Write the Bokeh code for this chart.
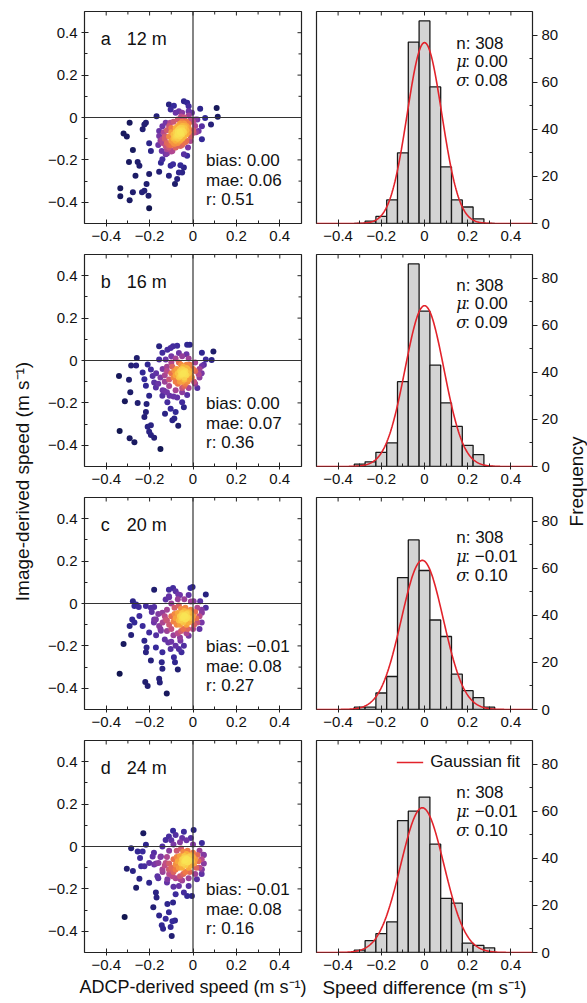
import numpy as np
from bokeh.plotting import figure
from bokeh.layouts import row, column
from bokeh.models import (Range1d, FixedTicker, CustomJSTickFormatter,
                          Span, Label, ColumnDataSource)
from bokeh.core.properties import value
from bokeh.embed import file_html
from bokeh.resources import INLINE

FONT = "Liberation Sans"

# ---------------- data ----------------
letters = ["a", "b", "c", "d"]
depths = ["12 m", "16 m", "20 m", "24 m"]
bias_txt = ["0.00", "0.00", "\u22120.01", "\u22120.01"]
mae_txt = ["0.06", "0.07", "0.08", "0.08"]
r_txt = ["0.51", "0.36", "0.27", "0.16"]
n_obs = [308, 308, 308, 308]
mu_txt = ["0.00", "0.00", "\u22120.01", "\u22120.01"]
sigma_txt = ["0.08", "0.09", "0.10", "0.10"]
mu_fit = [0.0, 0.0, -0.01, -0.01]
sigma_fit = [0.080, 0.090, 0.097, 0.100]

bin_centers = [-0.30, -0.25, -0.20, -0.15, -0.10, -0.05, 0.0, 0.05, 0.10, 0.15, 0.20, 0.25, 0.30]
bin_width = 0.05
hist_a = [0, 1, 3, 10, 30, 77, 86, 58, 24, 10, 7, 2, 0]
hist_b = [1, 2, 6, 10, 36, 86, 66, 43, 27, 17, 9, 5, 0]
hist_c = [1, 1, 7, 14, 56, 72, 59, 38, 31, 15, 8, 5, 1]
hist_d = [1, 5, 8, 13, 56, 60, 66, 46, 23, 21, 4, 3, 2]

# scatter (ADCP-derived, image-derived) pairs
sc_a = [(-0.335,-0.334),(-0.335,-0.372),(-0.292,-0.025),(-0.32,-0.075),(-0.305,-0.09),(-0.295,-0.21),
        (-0.277,-0.153),(-0.292,-0.39),(-0.277,-0.353),(-0.265,-0.275),(-0.255,-0.21),(-0.247,-0.228),
        (-0.235,-0.353),(-0.224,-0.345),(-0.214,-0.314),(-0.205,-0.369),(-0.202,-0.428),(-0.202,-0.267),
        (-0.202,-0.122),(-0.194,-0.158),(-0.232,-0.056),(-0.224,-0.033),(-0.217,-0.025),(-0.168,0.006),
        (-0.156,-0.256),(-0.148,-0.213),(-0.141,-0.197),(-0.144,-0.158),(-0.126,-0.173),(-0.111,-0.275),
        (-0.103,-0.228),(-0.092,-0.22),(-0.083,-0.314),(-0.073,-0.29),(-0.065,-0.259),(-0.05,-0.259),
        (-0.058,-0.225),(-0.042,-0.236),(-0.027,-0.181),(-0.023,-0.142),(-0.042,-0.173),(-0.111,0.061),
        (-0.103,0.038),(-0.088,0.056),(-0.042,0.077),(-0.027,0.069),(-0.02,0.053),(0.033,0.041),
        (0.056,-0.002),(0.083,-0.033),(0.109,0.045),(0.114,0.003),(0.041,-0.103),(0.026,-0.064),
        (0.041,-0.041),(-0.156,-0.064),(-0.156,-0.087),(-0.141,-0.103),(-0.126,-0.134),(-0.111,-0.142),
        (-0.095,-0.158),(-0.08,-0.142),(-0.058,-0.134),(-0.042,-0.119),(-0.012,-0.111),(0.003,-0.072),
        (0.011,-0.009),(-0.005,0.022),(-0.126,-0.025),(-0.141,-0.041),(-0.08,0.022),(-0.065,0.03),
        (-0.05,0.022),
        (-0.13,-0.09),(-0.12,-0.06),(-0.11,-0.04),(-0.09,-0.02),(-0.07,-0.01),(-0.04,0.0),(-0.02,0.01),
        (0.0,-0.02),(0.01,-0.04),(0.0,-0.06),(-0.01,-0.09),(-0.03,-0.11),(-0.05,-0.13),(-0.08,-0.14),
        (-0.10,-0.13),(-0.12,-0.15),(-0.14,-0.12),(-0.13,-0.10),(-0.15,-0.11),(-0.10,-0.16),(-0.02,0.03),
        (0.02,-0.01),(-0.135,-0.07),(-0.085,-0.125),(-0.035,-0.115),(0.015,-0.07),(-0.105,-0.025),
        (-0.055,0.005),(-0.16,-0.13),(-0.12,-0.17),
        (-0.06,-0.07),(-0.05,-0.06),(-0.07,-0.08),(-0.04,-0.05),(-0.08,-0.09),(-0.05,-0.08),(-0.07,-0.06),
        (-0.03,-0.04),(-0.09,-0.10),(-0.06,-0.05),(-0.06,-0.09),(-0.04,-0.07),(-0.08,-0.07),(-0.02,-0.03),
        (-0.10,-0.11),(-0.05,-0.04),(-0.07,-0.10),(-0.03,-0.06),(-0.09,-0.08),(-0.06,-0.03),(-0.04,-0.09),
        (-0.08,-0.05),(-0.11,-0.09),(-0.02,-0.05),(-0.05,-0.10),(-0.07,-0.04),(-0.10,-0.07),(-0.03,-0.02),
        (-0.12,-0.12),(-0.01,-0.01),(-0.06,-0.11),(-0.09,-0.12),(-0.04,-0.03),(-0.08,-0.11),(-0.05,-0.02),
        (-0.11,-0.13),(-0.02,-0.07),(-0.07,-0.12),(-0.10,-0.05),(-0.03,-0.08),(-0.06,-0.065),(-0.055,-0.075),
        (-0.065,-0.055),(-0.045,-0.065),(-0.075,-0.085),(-0.035,-0.045),(-0.085,-0.095),(-0.05,-0.05),
        (-0.07,-0.07),(-0.04,-0.04)]

sc_b = [(-0.338,-0.333),(-0.341,-0.073),(-0.295,-0.091),(-0.289,-0.15),(-0.314,-0.192),(-0.292,-0.367),
        (-0.27,-0.386),(-0.259,0.012),(-0.285,-0.023),(-0.262,-0.023),(-0.255,-0.2),(-0.224,-0.267),
        (-0.217,-0.243),(-0.214,-0.205),(-0.209,-0.313),(-0.202,-0.336),(-0.194,-0.352),(-0.179,-0.364),
        (-0.194,-0.305),(-0.202,-0.166),(-0.232,-0.057),(-0.224,-0.088),(-0.217,-0.119),(-0.209,-0.019),
        (-0.194,-0.042),(-0.186,-0.073),(-0.179,-0.104),(-0.171,-0.127),(-0.156,0.067),(-0.15,-0.417),
        (-0.129,-0.251),(-0.118,-0.197),(-0.108,-0.166),(-0.103,-0.228),(-0.095,-0.282),(-0.086,-0.274),
        (-0.068,-0.308),(-0.08,-0.243),(-0.042,-0.22),(-0.05,-0.197),(-0.027,-0.163),(-0.073,-0.174),
        (-0.133,-0.143),(-0.141,-0.166),(-0.118,0.051),(-0.103,0.059),(-0.092,0.067),(-0.073,0.07),
        (-0.027,0.074),(-0.015,0.074),(0.041,0.036),(0.059,0.005),(0.094,0.043),(0.086,0.002),
        (0.041,-0.026),(0.026,-0.065),(-0.141,0.036),(-0.156,0.005),(-0.126,0.005),
        (-0.13,-0.07),(-0.12,-0.03),(-0.1,-0.01),(-0.08,0.01),(-0.05,0.02),(-0.02,0.01),(0.01,-0.01),
        (0.03,-0.04),(0.03,-0.08),(0.01,-0.11),(-0.02,-0.13),(-0.05,-0.15),(-0.08,-0.14),(-0.11,-0.12),
        (-0.13,-0.10),(-0.15,-0.08),(-0.14,-0.04),(-0.16,-0.11),(-0.12,-0.15),(-0.09,-0.17),(0.04,-0.06),
        (-0.065,0.035),(-0.03,0.03),(0.02,-0.13),(-0.17,-0.06),(-0.14,-0.14),(-0.1,0.02),(0.05,-0.02),
        (-0.045,-0.06),(-0.035,-0.05),(-0.055,-0.07),(-0.03,-0.07),(-0.06,-0.05),(-0.04,-0.08),(-0.05,-0.04),
        (-0.02,-0.06),(-0.07,-0.06),(-0.045,-0.03),(-0.04,-0.09),(-0.025,-0.04),(-0.065,-0.08),(-0.015,-0.05),
        (-0.075,-0.04),(-0.05,-0.10),(-0.03,-0.02),(-0.08,-0.07),(-0.01,-0.07),(-0.06,-0.10),(-0.02,-0.09),
        (-0.085,-0.05),(-0.055,-0.02),(-0.035,-0.11),(0.0,-0.04),(-0.09,-0.08),(-0.07,-0.11),(-0.015,-0.02),
        (-0.04,-0.12),(-0.10,-0.06),(-0.005,-0.08),(-0.065,-0.01),(-0.08,-0.10),(-0.025,-0.10),
        (-0.045,-0.045),(-0.05,-0.065),(-0.04,-0.055),(-0.055,-0.055),(-0.035,-0.065),(-0.03,-0.035),
        (-0.06,-0.075),(-0.02,-0.025),(-0.11,-0.09),(0.01,-0.05),(-0.095,-0.03),(-0.05,-0.13),(0.005,-0.10),
        (-0.12,-0.05)]

sc_c = [(-0.338,-0.331),(-0.32,-0.191),(-0.292,-0.106),(-0.285,-0.149),(-0.277,0.011),(-0.27,-0.012),
        (-0.262,-0.005),(-0.25,-0.016),(-0.28,-0.075),(-0.27,-0.09),(-0.247,-0.059),(-0.232,-0.106),
        (-0.224,-0.176),(-0.214,-0.207),(-0.194,-0.269),(-0.22,-0.37),(-0.209,-0.389),(-0.217,-0.23),
        (-0.202,-0.137),(-0.179,-0.075),(-0.171,-0.207),(-0.179,0.065),(-0.217,-0.012),(-0.194,-0.02),
        (-0.179,-0.016),(-0.156,-0.355),(-0.153,-0.373),(-0.144,-0.277),(-0.141,-0.308),(-0.121,-0.425),
        (-0.141,-0.23),(-0.114,-0.184),(-0.103,-0.215),(-0.088,-0.253),(-0.083,-0.277),(-0.07,-0.311),
        (-0.08,-0.199),(-0.065,-0.215),(-0.053,-0.23),(-0.042,-0.199),(-0.058,-0.176),(-0.02,-0.152),
        (-0.148,-0.129),(-0.156,-0.106),(-0.171,-0.075),(-0.126,-0.075),(-0.141,-0.044),(-0.111,0.065),
        (-0.092,0.073),(-0.08,0.058),(-0.068,0.042),(-0.012,0.073),(-0.002,0.078),(0.059,0.042),
        (0.059,-0.02),(0.041,-0.044),(0.033,0.011),(0.003,0.011),(-0.126,0.019),(-0.111,0.034),
        (-0.13,-0.06),(-0.12,-0.03),(-0.1,0.0),(-0.07,0.02),(-0.04,0.02),(-0.01,0.01),(0.02,-0.02),
        (0.03,-0.06),(0.02,-0.09),(0.0,-0.12),(-0.03,-0.14),(-0.06,-0.16),(-0.09,-0.15),(-0.12,-0.13),
        (-0.14,-0.09),(-0.16,-0.05),(-0.15,-0.12),(-0.18,-0.09),(-0.13,-0.17),(-0.1,-0.18),(0.04,-0.03),
        (-0.06,0.04),(-0.02,0.04),(0.03,-0.12),(-0.19,-0.04),(-0.17,-0.15),(-0.11,0.03),(0.04,-0.09),
        (-0.04,-0.06),(-0.03,-0.05),(-0.05,-0.07),(-0.035,-0.075),(-0.05,-0.045),(-0.025,-0.065),(-0.06,-0.06),
        (-0.04,-0.035),(-0.045,-0.09),(-0.02,-0.04),(-0.065,-0.08),(-0.015,-0.07),(-0.07,-0.045),(-0.03,-0.1),
        (-0.055,-0.025),(-0.01,-0.05),(-0.08,-0.07),(-0.06,-0.1),(-0.02,-0.09),(-0.035,-0.02),(-0.085,-0.05),
        (-0.005,-0.08),(-0.075,-0.1),(-0.045,-0.12),(-0.01,-0.03),(-0.09,-0.085),(-0.065,-0.01),(0.0,-0.06),
        (-0.1,-0.06),(-0.025,-0.12),(-0.055,-0.13),(0.01,-0.04),(-0.11,-0.1),(-0.04,-0.055),(-0.045,-0.065),
        (-0.035,-0.06),(-0.05,-0.055),(-0.03,-0.07),(-0.055,-0.08),(-0.025,-0.045),(-0.12,-0.08),
        (0.005,-0.1),(-0.085,-0.02),(-0.1,-0.12),(-0.07,-0.14),(0.015,-0.07)]

sc_d = [(-0.315,-0.333),(-0.305,-0.105),(-0.285,-0.008),(-0.277,-0.116),(-0.262,-0.194),(-0.247,-0.152),
        (-0.244,-0.054),(-0.232,-0.023),(-0.229,0.062),(-0.217,0.008),(-0.255,-0.023),(-0.239,-0.093),
        (-0.224,-0.093),(-0.202,-0.171),(-0.183,-0.287),(-0.171,-0.217),(-0.168,-0.24),(-0.164,-0.14),
        (-0.156,-0.326),(-0.144,-0.372),(-0.138,-0.388),(-0.126,-0.341),(-0.118,-0.271),(-0.111,-0.31),
        (-0.103,-0.38),(-0.098,-0.422),(-0.095,-0.353),(-0.083,-0.349),(-0.092,-0.264),(-0.08,-0.225),
        (-0.065,-0.186),(-0.042,-0.217),(-0.027,-0.233),(-0.02,-0.186),(-0.005,-0.233),(0.018,-0.155),
        (0.041,-0.109),(0.048,-0.039),(0.041,0.016),(0.003,0.078),(-0.042,0.07),(-0.092,0.074),
        (-0.08,0.054),(-0.111,0.047),(-0.126,0.031),(-0.141,0.0),(-0.148,-0.047),(-0.159,-0.078),
        (-0.179,-0.085),(-0.126,-0.078),(-0.111,-0.109),(-0.095,-0.14),(-0.118,-0.155),(-0.141,-0.109),
        (-0.08,-0.109),(-0.058,-0.155),(-0.186,-0.047),(-0.202,-0.078),
        (-0.12,-0.05),(-0.11,-0.02),(-0.09,0.01),(-0.06,0.02),(-0.03,0.03),(0.0,0.01),(0.03,-0.02),
        (0.04,-0.06),(0.03,-0.1),(0.01,-0.13),(-0.02,-0.15),(-0.05,-0.16),(-0.08,-0.15),(-0.11,-0.13),
        (-0.13,-0.09),(-0.15,-0.05),(-0.14,-0.12),(-0.17,-0.08),(-0.12,-0.17),(-0.09,-0.19),(0.05,-0.04),
        (-0.05,0.04),(-0.01,0.04),(0.04,-0.13),(-0.18,-0.03),(-0.16,-0.15),(-0.1,0.03),(0.05,-0.08),
        (-0.03,-0.06),(-0.02,-0.05),(-0.04,-0.07),(-0.025,-0.075),(-0.04,-0.045),(-0.015,-0.065),(-0.05,-0.06),
        (-0.03,-0.035),(-0.035,-0.09),(-0.01,-0.04),(-0.055,-0.08),(-0.005,-0.07),(-0.06,-0.045),(-0.02,-0.1),
        (-0.045,-0.025),(0.0,-0.05),(-0.07,-0.07),(-0.05,-0.1),(-0.01,-0.09),(-0.025,-0.02),(-0.075,-0.05),
        (0.005,-0.08),(-0.065,-0.1),(-0.035,-0.12),(0.0,-0.03),(-0.08,-0.085),(-0.055,-0.01),(0.01,-0.06),
        (-0.09,-0.06),(-0.015,-0.12),(-0.045,-0.13),(0.02,-0.04),(-0.1,-0.1),(-0.03,-0.055),(-0.035,-0.065),
        (-0.025,-0.06),(-0.04,-0.055),(-0.02,-0.07),(-0.045,-0.08),(-0.015,-0.045),(-0.11,-0.08),
        (0.015,-0.1),(-0.075,-0.02),(-0.09,-0.12),(-0.06,-0.14),(0.025,-0.07)]

scatters = [sc_a, sc_b, sc_c, sc_d]
hists = [hist_a, hist_b, hist_c, hist_d]

# tick positions (styling)
major_pos = [-0.4, -0.2, 0.0, 0.2, 0.4]
minor_pos = [-0.3, -0.1, 0.1, 0.3]

# ---------------- layout constants (page has no margin) ----------------
YL_W = 44
SC_BL, SC_FW, SC_BR = 37, 220, 7
HI_BL, HI_FW, HI_BR = 8, 218, 27
FR_W = 26
FR_H = 212
TOPS = [11, 3, 3, 3]
BOTS = [28, 28, 28, 48]
TOTAL_H = sum(TOPS) + 4 * FR_H + sum(BOTS)
LABEL_Y = TOTAL_H - 481

pos_ticks = FixedTicker(ticks=major_pos, minor_ticks=minor_pos)
fmt = CustomJSTickFormatter(code="""
    if (Math.abs(tick) < 1e-9) return "0";
    return (tick < 0 ? "\\u2212" : "") + Math.abs(tick).toFixed(1);
""")

# colour ramp for point density (dark navy -> purple -> orange -> yellow)
ramp_stops = [0.0, 0.22, 0.42, 0.58, 0.74, 0.88, 1.0]
ramp_cols = ["#121650", "#35299a", "#7136a8", "#bb4a8c", "#ee7448", "#f9ad3c", "#f9e454"]


def ramp(t):
    r = []
    for v in t:
        for k in range(len(ramp_stops) - 1):
            if v <= ramp_stops[k + 1] or k == len(ramp_stops) - 2:
                f = (v - ramp_stops[k]) / (ramp_stops[k + 1] - ramp_stops[k])
                f = min(max(f, 0.0), 1.0)
                c0 = [int(ramp_cols[k][j:j + 2], 16) for j in (1, 3, 5)]
                c1 = [int(ramp_cols[k + 1][j:j + 2], 16) for j in (1, 3, 5)]
                c = [round(c0[j] + (c1[j] - c0[j]) * f) for j in range(3)]
                r.append("#%02x%02x%02x" % tuple(c))
                break
    return r


def style_axis(ax, tick_out=3, tick_in=4):
    ax.axis_line_color = None
    ax.major_tick_line_color = "#222222"
    ax.minor_tick_line_color = "#222222"
    ax.major_tick_in = tick_in
    ax.major_tick_out = tick_out
    ax.minor_tick_in = 3
    ax.minor_tick_out = 0
    ax.major_label_text_font = FONT
    ax.major_label_text_font_size = "15px"
    ax.major_label_text_color = "#111111"
    ax.major_label_standoff = 4


def axis_title(ax, text, size):
    ax.axis_label = text
    ax.axis_label_text_font = FONT
    ax.axis_label_text_font_size = size
    ax.axis_label_text_font_style = "normal"
    ax.axis_label_text_color = "#111111"
    ax.axis_label_standoff = 4


def inner_ticks(p, side):
    # small inward tick marks on the mirrored frame edges (half of each dash is clipped)
    for pos, sz in ((major_pos, 8), (minor_pos, 6)):
        if side == "top":
            p.scatter(x=pos, y=[p.y_range.end] * len(pos), marker="dash", angle=np.pi / 2,
                      size=sz, line_color="#222222", line_width=1)
        else:
            p.scatter(x=[p.x_range.end] * len(pos), y=pos, marker="dash", angle=0,
                      size=sz, line_color="#222222", line_width=1)


def density_sorted(pts, h=0.04):
    X = np.array([q[0] for q in pts])
    Y = np.array([q[1] for q in pts])
    d2 = (X[:, None] - X[None, :]) ** 2 + (Y[:, None] - Y[None, :]) ** 2
    dens = np.exp(-d2 / (2 * h * h)).sum(axis=1)
    t = ((dens - dens.min()) / (dens.max() - dens.min())) ** 0.8
    order = np.argsort(dens)
    return X[order], Y[order], ramp(t[order])


def base_fig(width, i, bl, br, yr, yloc="left"):
    p = figure(width=width, height=TOPS[i] + FR_H + BOTS[i], output_backend="svg",
               toolbar_location=None, x_range=Range1d(-0.5, 0.5), y_range=yr,
               y_axis_location=yloc,
               min_border_left=bl, min_border_right=br, min_border_top=TOPS[i],
               min_border_bottom=BOTS[i])
    p.grid.visible = False
    p.outline_line_color = "#222222"
    p.outline_line_width = 1.2
    p.background_fill_color = "white"
    p.border_fill_color = "white"
    return p


def make_scatter(i):
    p = base_fig(SC_BL + SC_FW + SC_BR, i, SC_BL, SC_BR, Range1d(-0.5, 0.5))
    xa, ya = p.xaxis[0], p.yaxis[0]
    for ax in (xa, ya):
        ax.ticker = pos_ticks
        ax.formatter = fmt
        style_axis(ax)
    if i == 3:
        axis_title(xa, "ADCP-derived speed (m s\u207b\u00b9)", "18px")
    inner_ticks(p, "top")
    inner_ticks(p, "right")
    p.add_layout(Span(location=0, dimension="width", line_color="#333333", line_width=1.2))
    p.add_layout(Span(location=0, dimension="height", line_color="#333333", line_width=1.2))
    xs, ys, cols = density_sorted(scatters[i])
    p.scatter(xs, ys, size=6, fill_color=cols, line_color=None)
    p.add_layout(Label(x=-0.425, y=0.37, text=letters[i], text_font=FONT, text_font_size="18px",
                       text_baseline="middle", text_color="#111111"))
    p.add_layout(Label(x=-0.305, y=0.37, text=depths[i], text_font=FONT, text_font_size="18px",
                       text_baseline="middle", text_color="#111111"))
    lines = ["bias: " + bias_txt[i], "mae: " + mae_txt[i], "r: " + r_txt[i]]
    for k, t in enumerate(lines):
        p.add_layout(Label(x=0.06, y=-0.205 - 0.09 * k, text=t, text_font=FONT,
                           text_font_size="17px", text_baseline="middle", text_color="#111111"))
    return p


def make_hist(i):
    p = base_fig(HI_BL + HI_FW + HI_BR, i, HI_BL, HI_BR, Range1d(0, 90), yloc="right")
    xa, ya = p.xaxis[0], p.yaxis[0]
    xa.ticker = pos_ticks
    xa.formatter = fmt
    style_axis(xa)
    ya.ticker = FixedTicker(ticks=[0, 20, 40, 60, 80], minor_ticks=[10, 30, 50, 70])
    style_axis(ya, tick_out=5, tick_in=0)
    if i == 3:
        axis_title(xa, "Speed difference (m s\u207b\u00b9)", "19px")
    inner_ticks(p, "top")
    counts = hists[i]
    src = ColumnDataSource(dict(left=[c - bin_width / 2 for c in bin_centers],
                                right=[c + bin_width / 2 for c in bin_centers],
                                top=counts, bottom=[0] * len(counts)))
    p.quad(left="left", right="right", top="top", bottom="bottom", source=src,
           fill_color="#d4d4d4", line_color="#1a1a1a", line_width=1.3)
    gx = np.linspace(-0.5, 0.5, 301)
    gy = n_obs[i] * bin_width / (sigma_fit[i] * np.sqrt(2 * np.pi)) * \
        np.exp(-0.5 * ((gx - mu_fit[i]) / sigma_fit[i]) ** 2)
    if i == 3:
        p.line(gx, gy, line_color="#e2232b", line_width=1.6, legend_label="Gaussian fit")
        lg = p.legend[0]
        lg.location = "top_right"
        lg.border_line_color = None
        lg.background_fill_alpha = 0
        lg.label_text_font = FONT
        lg.label_text_font_size = "17px"
        lg.label_text_color = "#111111"
        lg.glyph_width = 27
        lg.label_standoff = 7
        lg.label_height = 16
        lg.glyph_height = 16
        lg.margin = 12
        lg.padding = 8
    else:
        p.line(gx, gy, line_color="#e2232b", line_width=1.6)
    top_y = [76.6, 77.0, 73.0, 68.0][i]
    step = 8.0
    tx = 0.147
    p.add_layout(Label(x=tx, y=top_y, text="n: %d" % n_obs[i], text_font=FONT, text_font_size="17px",
                       text_baseline="middle", text_color="#111111"))
    for k, (sym, val) in enumerate([("\u03bc", mu_txt[i]), ("\u03c3", sigma_txt[i])]):
        yy = top_y - step * (k + 1)
        p.add_layout(Label(x=tx, y=yy, text=sym, text_font="DejaVu Serif", text_font_size="16px",
                           text_font_style="italic", text_baseline="middle", text_color="#111111"))
        p.add_layout(Label(x=tx, y=yy, x_offset=9, text=": " + val, text_font=FONT,
                           text_font_size="17px", text_baseline="middle", text_color="#111111"))
    return p


def label_fig(width, text, xpos):
    p = figure(width=width, height=TOTAL_H, output_backend="svg", toolbar_location=None,
               x_range=Range1d(0, width), y_range=Range1d(0, TOTAL_H),
               min_border=0, outline_line_color=None)
    p.axis.visible = False
    p.grid.visible = False
    p.border_fill_color = "white"
    p.background_fill_color = "white"
    p.text(x=[xpos], y=[LABEL_Y], text=[text], angle=np.pi / 2, text_align="center",
           text_baseline="middle", text_font=value(FONT), text_font_size="19px", text_color="#111111")
    return p


rows = [row(make_scatter(i), make_hist(i)) for i in range(4)]
ylab = label_fig(YL_W, "Image-derived speed (m s\u207b\u00b9)", 22)
freq = label_fig(FR_W, "Frequency", 15)

layout = row(ylab, column(*rows), freq)

open("out.html", "w").write(file_html(layout, INLINE))
